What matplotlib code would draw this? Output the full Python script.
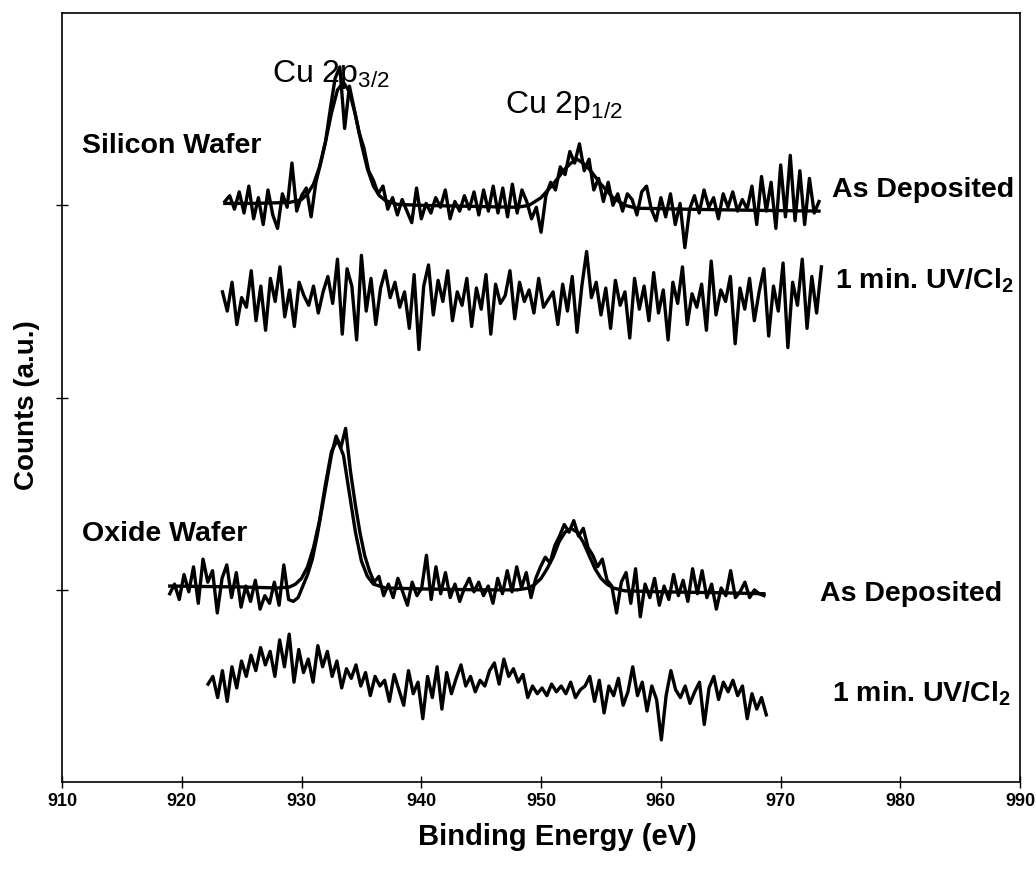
import numpy as np
import matplotlib

matplotlib.use('Agg')
import matplotlib.pyplot as plt

plt.rcParams['font.family'] = ['Liberation Sans', 'DejaVu Sans']
plt.rcParams['mathtext.fontset'] = 'custom'
plt.rcParams['mathtext.rm'] = 'Liberation Sans'
plt.rcParams['mathtext.it'] = 'Liberation Sans'
plt.rcParams['mathtext.bf'] = 'Liberation Sans:bold'

# Binding energy range of each scan (eV)
si_dep_range = (923.6, 973.2)
si_uv_range = (923.4, 973.4)
ox_dep_range = (919.0, 968.6)
ox_uv_range = (922.2, 968.8)

# Silicon wafer, as deposited (counts, a.u.)
si_dep = [3.02, 3.05, 2.98, 3.07, 2.96, 3.10, 2.93, 3.04, 2.90, 3.08,
          2.95, 2.88, 3.06, 2.99, 3.22, 2.97, 3.05, 3.09, 2.94,
          3.12, 3.22, 3.33, 3.50, 3.66, 3.72, 3.40, 3.62, 3.50, 3.38,
          3.30, 3.18, 3.13, 3.06, 3.10, 2.98, 3.04,
          2.95, 3.03, 2.97, 2.91, 3.09, 2.93, 3.01, 2.96, 3.04, 2.99,
          3.08, 2.93, 3.02, 2.97, 3.05, 2.98, 3.07, 2.95, 3.08, 2.97,
          3.10, 2.96, 3.09, 2.94, 3.11, 2.96, 3.08, 3.02, 2.93,
          2.99, 2.86, 3.05, 3.12, 3.08, 3.20, 3.16, 3.28, 3.22, 3.32,
          3.18, 3.24, 3.08, 3.14, 3.02, 3.12, 3.00, 3.06,
          2.97, 3.06, 3.03, 2.95, 3.07, 3.10, 2.98, 2.92, 3.04, 2.94,
          3.06, 2.90, 3.01, 2.78, 2.98, 3.05, 2.96, 3.08, 2.99, 3.04,
          2.93, 3.06, 2.99, 3.07, 2.97, 3.03, 2.98, 3.10, 2.90, 3.15,
          2.97, 3.12, 2.88, 3.21, 2.94, 3.26, 2.92, 3.18, 2.90, 3.14,
          2.96, 3.02]

# Silicon wafer, after 1 min. UV/Cl2
si_uv = [2.55, 2.45, 2.60, 2.38, 2.52, 2.47, 2.66, 2.40, 2.58, 2.35,
         2.62, 2.50, 2.68, 2.42, 2.56, 2.37, 2.60, 2.53, 2.48, 2.58,
         2.44, 2.55, 2.63, 2.49, 2.72, 2.33, 2.67, 2.58, 2.30, 2.74,
         2.45, 2.62, 2.38, 2.57, 2.66, 2.52, 2.60, 2.47, 2.55, 2.36,
         2.64, 2.25, 2.58, 2.69, 2.43, 2.61, 2.50, 2.66, 2.40, 2.55,
         2.48, 2.62, 2.37, 2.57, 2.46, 2.64, 2.33, 2.59, 2.49, 2.53,
         2.66, 2.41, 2.60, 2.50, 2.56, 2.44, 2.62, 2.47, 2.51, 2.55,
         2.38, 2.59, 2.45, 2.63, 2.34, 2.58, 2.76, 2.52, 2.60, 2.43,
         2.57, 2.36, 2.61, 2.48, 2.55, 2.31, 2.62, 2.46, 2.58, 2.40,
         2.65, 2.44, 2.56, 2.30, 2.60, 2.49, 2.68, 2.38, 2.54, 2.47,
         2.59, 2.35, 2.71, 2.43, 2.56, 2.50, 2.63, 2.28, 2.57, 2.46,
         2.62, 2.40, 2.55, 2.67, 2.32, 2.58, 2.45, 2.70, 2.26, 2.60,
         2.48, 2.72, 2.36, 2.63, 2.44, 2.68]

# Oxide wafer, as deposited
ox_dep = [0.98, 1.03, 0.95, 1.08, 0.99, 1.12, 0.93, 1.16, 1.04, 1.10,
          0.88, 1.06, 1.13, 0.96, 1.09, 0.91, 1.02, 0.94, 1.05, 0.90,
          0.97, 0.93, 1.04, 0.92, 1.13, 0.95, 0.94, 0.96, 1.02, 1.08,
          1.16, 1.28, 1.42, 1.56, 1.70, 1.80, 1.74, 1.84, 1.62, 1.45,
          1.30, 1.18, 1.10, 1.04, 1.07, 0.97,
          1.03, 0.96, 1.06, 0.99, 0.92, 1.04, 0.97, 1.01, 1.18, 0.95,
          1.12, 0.98, 1.09, 0.96, 1.03, 0.94, 1.01, 1.06, 0.99, 1.04,
          0.97, 1.02, 0.93, 1.06, 0.98, 1.10, 0.99, 1.12, 1.01, 1.09,
          0.96, 1.06, 1.12, 1.17, 1.14, 1.23, 1.28, 1.34, 1.30, 1.36,
          1.28, 1.32, 1.22, 1.18, 1.12, 1.16, 1.05, 1.02, 0.88, 1.04,
          1.09, 0.93, 1.11, 0.86, 1.03, 0.96, 1.06, 0.92, 1.02, 0.95,
          1.08, 0.97, 1.05, 0.94, 1.11, 0.98, 1.10, 0.96, 1.03, 0.90,
          1.01, 0.97, 1.10, 0.96, 0.99, 1.04, 0.96, 1.00, 0.98, 0.97]

# Oxide wafer, after 1 min. UV/Cl2
ox_uv = [0.51, 0.55, 0.44, 0.58, 0.42, 0.60, 0.49, 0.63, 0.55, 0.66,
         0.58, 0.70, 0.61, 0.68, 0.55, 0.74, 0.60, 0.77, 0.52, 0.69,
         0.57, 0.64, 0.52, 0.71, 0.60, 0.68, 0.55, 0.63, 0.49, 0.59,
         0.54, 0.61, 0.50, 0.57, 0.45, 0.55, 0.50, 0.53, 0.42, 0.56,
         0.48, 0.40, 0.58, 0.46, 0.52, 0.33, 0.55, 0.44, 0.60, 0.38,
         0.57, 0.46, 0.54, 0.61, 0.50, 0.55, 0.47, 0.53, 0.50, 0.58,
         0.62, 0.51, 0.64, 0.55, 0.59, 0.52, 0.56, 0.44, 0.50, 0.46,
         0.49, 0.45, 0.51, 0.47, 0.50, 0.46, 0.52, 0.44, 0.48, 0.50,
         0.55, 0.42, 0.53, 0.36, 0.50, 0.45, 0.54, 0.40, 0.47, 0.60,
         0.45, 0.52, 0.37, 0.50, 0.43, 0.22, 0.45, 0.58, 0.48, 0.44,
         0.50, 0.41, 0.47, 0.52, 0.30, 0.49, 0.55, 0.43, 0.52, 0.47,
         0.53, 0.45, 0.50, 0.33, 0.46, 0.38, 0.44, 0.35]

# Peak fits (smooth curves)
si_fit_e = [923.6, 926, 929, 930, 930.5, 931, 931.5, 932, 932.5, 933, 933.5,
            934, 934.5, 935, 935.5, 936, 936.5, 937, 938, 940, 944, 948, 949,
            950, 951, 952, 952.5, 953, 953.5, 954, 955, 956, 957, 958, 962,
            967, 973.2]
si_fit = [3.01, 3.01, 3.015, 3.03, 3.06, 3.11, 3.20, 3.33, 3.48, 3.60, 3.64,
          3.59, 3.47, 3.32, 3.19, 3.10, 3.05, 3.025, 3.005, 3.0, 2.995, 2.99,
          3.0, 3.04, 3.11, 3.19, 3.22, 3.24, 3.22, 3.19, 3.11, 3.04, 3.0,
          2.985, 2.98, 2.975, 2.97]

ox_fit_e = [919, 925, 928, 929, 929.5, 930, 930.5, 931, 931.5, 932, 932.5,
            933, 933.5, 934, 934.5, 935, 935.5, 936, 937, 940, 945, 948, 949,
            949.5, 950, 950.5, 951, 951.5, 952, 952.5, 953, 953.5, 954, 954.5,
            955, 955.5, 956, 957, 960, 965, 968.6]
ox_fit = [1.02, 1.015, 1.01, 1.015, 1.03, 1.06, 1.12, 1.22, 1.36, 1.55, 1.72,
          1.78, 1.70, 1.50, 1.30, 1.15, 1.07, 1.03, 1.01, 1.005, 1.0, 1.0, 1.01,
          1.03, 1.06, 1.11, 1.17, 1.25, 1.30, 1.32, 1.30, 1.25, 1.18, 1.11,
          1.06, 1.03, 1.01, 0.995, 0.99, 0.985, 0.98]

x_ticks = [910, 920, 930, 940, 950, 960, 970, 980, 990]


def energies(rng, n):
    return np.linspace(rng[0], rng[1], n)


fig = plt.figure(figsize=(10.36, 8.71), dpi=100)
ax = fig.add_axes([0.0598, 0.102, 0.925, 0.883])

lw = 2.4
ax.plot(energies(si_dep_range, len(si_dep)), si_dep, color='black', lw=lw)
ax.plot(si_fit_e, si_fit, color='black', lw=lw)
ax.plot(energies(si_uv_range, len(si_uv)), si_uv, color='black', lw=lw)
ax.plot(energies(ox_dep_range, len(ox_dep)), ox_dep, color='black', lw=lw)
ax.plot(ox_fit_e, ox_fit, color='black', lw=lw)
ax.plot(energies(ox_uv_range, len(ox_uv)), ox_uv, color='black', lw=lw)

ax.set_xlim(910, 990)
ax.set_ylim(0, 4)
ax.set_xticks(x_ticks)
ax.set_yticks([1, 2, 3])
ax.set_yticklabels([])
ax.tick_params(direction='inout', length=8, width=1.0, color='black')
ax.tick_params(axis='x', labelsize=13, pad=4)
for lab in ax.get_xticklabels():
    lab.set_fontweight('bold')
for sp in ax.spines.values():
    sp.set_linewidth(1.2)

ax.set_xlabel('Binding Energy (eV)', fontsize=21, fontweight='bold')
ax.xaxis.set_label_coords(0.517, -0.053)
ax.set_ylabel('Counts (a.u.)', fontsize=20, fontweight='bold')
ax.yaxis.set_label_coords(-0.023, 0.49)

ax.text(927.5, 3.68, 'Cu 2p$_{3/2}$', fontsize=23, va='center', ha='left')
ax.text(947.0, 3.52, 'Cu 2p$_{1/2}$', fontsize=23, va='center', ha='left')

bold = dict(fontsize=20.5, fontweight='bold', va='center', ha='left')
ax.text(911.7, 3.31, 'Silicon Wafer', **bold)
ax.text(911.7, 1.29, 'Oxide Wafer', **bold)
ax.text(974.3, 3.08, 'As Deposited', **bold)
ax.text(974.5, 2.61, r'1 min. UV/Cl$_\mathbf{2}$', **bold)
ax.text(973.3, 0.98, 'As Deposited', **bold)
ax.text(974.3, 0.46, r'1 min. UV/Cl$_\mathbf{2}$', **bold)

fig.savefig('out.png', dpi=100)
